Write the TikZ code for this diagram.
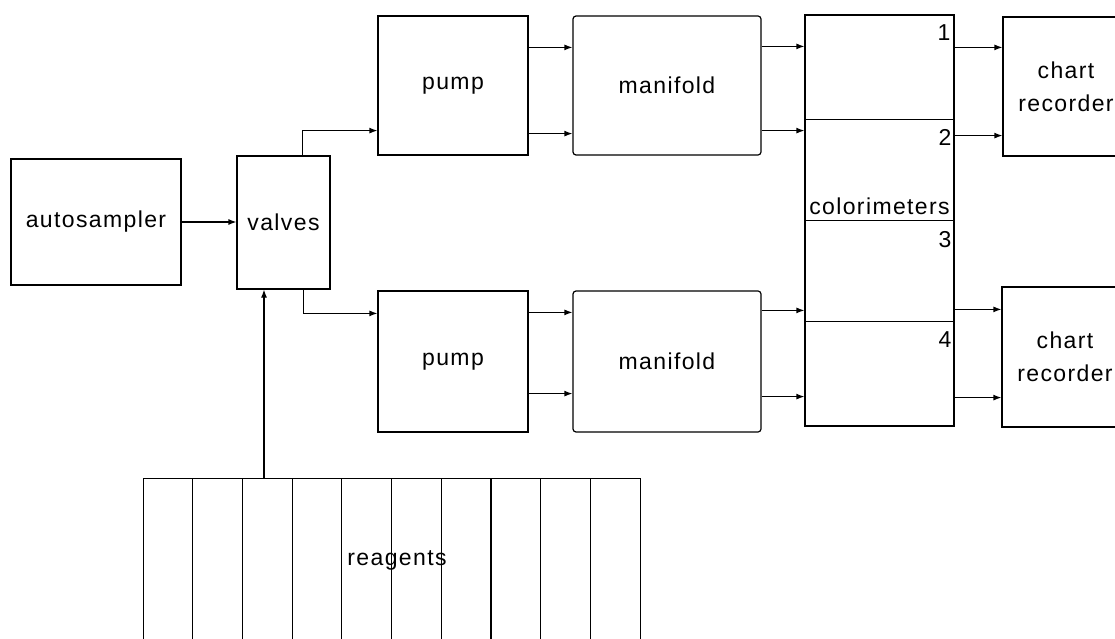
\documentclass[tikz,border=0pt]{standalone}
\usepackage{fontspec}
\setmainfont{Liberation Sans}[LetterSpace=6]
\usetikzlibrary{arrows.meta}
\begin{document}
\begin{tikzpicture}[x=1pt,y=-1pt,
  every node/.style={font=\fontsize{23}{33}\selectfont},
  box/.style={draw,line width=1.2pt,inner sep=0pt,align=center},
  arr/.style={line width=1.2pt,-{Latex[length=8pt,width=6pt]}},
  ln/.style={line width=1.2pt},
  num/.style={anchor=east,inner sep=1pt}]
\useasboundingbox (0,0) rectangle (1115,639);
\clip (0,0) rectangle (1115,639);
\fill[white] (0,0) rectangle (1115,639);
% nodes
\node[box,minimum width=170pt,minimum height=126pt] (auto) at (96,222) {autosampler};
\node[box,minimum width=93pt,minimum height=133pt] (valves) at (283.5,222.5) {valves};
\node[box,minimum width=150pt,minimum height=139pt] (pu1) at (453,85.5) {pump};
\node[box,rounded corners=3pt,minimum width=188pt,minimum height=139pt] (mf1) at (667,85.5) {manifold};
\node[box,minimum width=150pt,minimum height=141pt] (pu2) at (453,361.5) {pump};
\node[box,rounded corners=3pt,minimum width=188pt,minimum height=141pt] (mf2) at (667,361.5) {manifold};
\node[box,minimum width=149pt,minimum height=411pt] (col) at (879.5,220.5) {};
\node[box,minimum width=126pt,minimum height=139pt] (cr1) at (1066,86.5) {chart\\recorder};
\node[box,minimum width=126pt,minimum height=140pt] (cr2) at (1065,357) {chart\\recorder};
\node[box,minimum width=497pt,minimum height=200pt,anchor=north west] (reag) at (143,478) {};
\node (reagt) at (397,560) {reagents};
% colorimeter dividers and labels
\draw[ln] ([yshift=-105pt]col.north west) -- ([yshift=-105pt]col.north east);
\draw[ln] ([yshift=-206pt]col.north west) -- ([yshift=-206pt]col.north east);
\draw[ln] ([yshift=-307pt]col.north west) -- ([yshift=-307pt]col.north east);
\node[num] (n1) at ([xshift=-3pt,yshift=-18pt]col.north east) {1};
\node[num] (n2) at ([xshift=-2pt,yshift=-123pt]col.north east) {2};
\node[num] (n3) at ([xshift=-2pt,yshift=-225pt]col.north east) {3};
\node[num] (n4) at ([xshift=-2pt,yshift=-325pt]col.north east) {4};
\node[anchor=base,inner sep=0pt] (colt) at ([yshift=-200pt]col.north) {colorimeters};
% reagent columns
\foreach \i in {1,...,9} {
  \draw[ln] ([xshift=\i*49.7pt]reag.north west) -- ([xshift=\i*49.7pt]reag.south west);
}
% connectors
\draw[arr] (auto.east) -- (auto.east -| valves.west);
\draw[arr] ([xshift=121pt]reag.north west) -- ([xshift=121pt]reag.north west |- valves.south);
\draw[arr] ([xshift=66pt]valves.north west) |- ([yshift=25pt]pu1.south west);
\draw[arr] ([xshift=67pt]valves.south west) |- ([yshift=-23pt]pu2.north west);
% upper chain
\draw[arr] ([yshift=-32pt]pu1.north east) -- ([yshift=-32pt]pu1.north east -| mf1.west);
\draw[arr] ([yshift=22pt]pu1.south east) -- ([yshift=22pt]pu1.south east -| mf1.west);
\draw[arr] ([yshift=-31pt]mf1.north east) -- ([yshift=-31pt]mf1.north east -| col.west);
\draw[arr] ([yshift=25pt]mf1.south east) -- ([yshift=25pt]mf1.south east -| col.west);
\draw[arr] ([yshift=-31pt]cr1.north west -| col.east) -- ([yshift=-31pt]cr1.north west);
\draw[arr] ([yshift=21pt]cr1.south west -| col.east) -- ([yshift=21pt]cr1.south west);
% lower chain
\draw[arr] ([yshift=-22pt]pu2.north east) -- ([yshift=-22pt]pu2.north east -| mf2.west);
\draw[arr] ([yshift=39pt]pu2.south east) -- ([yshift=39pt]pu2.south east -| mf2.west);
\draw[arr] ([yshift=-20pt]mf2.north east) -- ([yshift=-20pt]mf2.north east -| col.west);
\draw[arr] ([yshift=36pt]mf2.south east) -- ([yshift=36pt]mf2.south east -| col.west);
\draw[arr] ([yshift=-23pt]cr2.north west -| col.east) -- ([yshift=-23pt]cr2.north west);
\draw[arr] ([yshift=30pt]cr2.south west -| col.east) -- ([yshift=30pt]cr2.south west);
\end{tikzpicture}
\end{document}
